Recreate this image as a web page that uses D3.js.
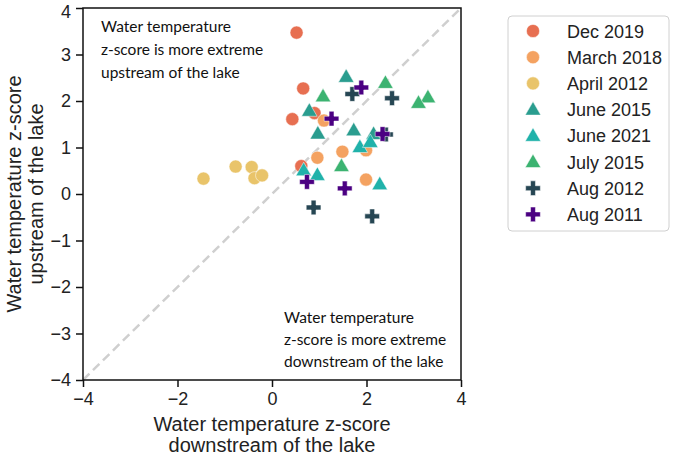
<!DOCTYPE html>
<html><head><meta charset="utf-8">
<script src="https://cdn.jsdelivr.net/npm/d3@7"></script>
<style>body{margin:0;background:#fff;} svg{display:block;}</style>
</head><body>
<svg id="chart" width="673" height="456"></svg>
<script>
const seriesNames = ["Dec 2019","March 2018","April 2012","June 2015","June 2021","July 2015","Aug 2012","Aug 2011"];
const seriesColors = ["#e76f51","#f4a261","#e9c46a","#2a9d8f","#20b2aa","#3cb371","#264653","#4b0082"];
const seriesShapes = ["circle","circle","circle","triangle","triangle","triangle","plus","plus"];
const dec2019 = [[0.52,3.47],[0.66,2.27],[0.90,1.74],[0.43,1.61],[0.62,0.60]];
const march2018 = [[1.10,1.58],[1.99,0.94],[1.49,0.91],[0.96,0.78],[1.99,0.31]];
const april2012 = [[-1.45,0.33],[-0.77,0.59],[-0.43,0.58],[-0.37,0.34],[-0.21,0.40]];
const june2015 = [[0.79,1.79],[1.57,2.52],[0.97,1.30],[1.73,1.37],[2.15,1.29]];
const june2021 = [[1.86,1.01],[2.08,1.12],[0.67,0.51],[0.96,0.41],[2.28,0.21]];
const july2015 = [[1.08,2.10],[2.40,2.39],[3.30,2.08],[3.10,1.96],[1.47,0.60]];
const aug2012 = [[1.70,2.15],[2.54,2.06],[2.41,1.28],[0.88,-0.29],[2.12,-0.48]];
const aug2011 = [[1.89,2.29],[1.26,1.62],[2.34,1.29],[0.74,0.26],[1.54,0.12]];
const seriesValues = [dec2019, march2018, april2012, june2015, june2021, july2015, aug2012, aug2011];
const xTicks = [-4,-2,0,2,4];
const yTicks = [-4,-3,-2,-1,0,1,2,3,4];
const axisDomain = [-4,4];
const xLabelLines = ["Water temperature z-score","downstream of the lake"];
const yLabelLines = ["Water temperature z-score","upstream of the lake"];
const upperNote = ["Water temperature","z-score is more extreme","upstream of the lake"];
const lowerNote = ["Water temperature","z-score is more extreme","downstream of the lake"];

const svg = d3.select("#chart");
const L = 83, R = 461, T = 8, B = 380;
const x = d3.scaleLinear().domain(axisDomain).range([L, R]);
const y = d3.scaleLinear().domain(axisDomain).range([B, T]);

// diagonal 1:1 line
svg.append("line")
  .attr("x1", x(axisDomain[0])).attr("y1", y(axisDomain[0]))
  .attr("x2", x(axisDomain[1])).attr("y2", y(axisDomain[1]))
  .attr("stroke", "#cfcfcf").attr("stroke-width", 2.5).attr("stroke-dasharray", "9,5");

// annotations
const noteFont = "Lato, 'Open Sans', sans-serif";
const up = svg.append("text").attr("font-family", noteFont).attr("font-size", 15.5).attr("fill", "#111");
upperNote.forEach((t,i) => up.append("tspan").attr("x", 101).attr("y", 32 + i*23).text(t));
const lo = svg.append("text").attr("font-family", noteFont).attr("font-size", 15.5).attr("fill", "#111");
lowerNote.forEach((t,i) => lo.append("tspan").attr("x", 284).attr("y", 323 + i*22).text(t));

// symbols
function symPath(shape){
  if (shape === "circle") return d3.symbol(d3.symbolCircle, 135)();
  if (shape === "triangle") return d3.symbol(d3.symbolTriangle, 105)();
  return d3.symbol(d3.symbolCross, 120)();
}

const marks = svg.append("g");
seriesValues.forEach((vals, si) => {
  marks.selectAll(null).data(vals).enter().append("path")
    .attr("d", symPath(seriesShapes[si]))
    .attr("transform", d => `translate(${x(d[0])},${y(d[1]) + (seriesShapes[si]==="triangle"?1:0)})`)
    .attr("fill", seriesColors[si])
    .attr("stroke", "#fff").attr("stroke-width", 0.5);
});

// frame
svg.append("rect").attr("x", L).attr("y", T).attr("width", R-L).attr("height", B-T)
  .attr("fill", "none").attr("stroke", "#111").attr("stroke-width", 1.5);

// axes
const fontAx = "'Liberation Sans', Arial, sans-serif";
const xAxis = svg.append("g").attr("transform", `translate(0,${B})`)
  .call(d3.axisBottom(x).tickValues(xTicks).tickSize(7).tickPadding(5));
const yAxis = svg.append("g").attr("transform", `translate(${L},0)`)
  .call(d3.axisLeft(y).tickValues(yTicks).tickSize(7).tickPadding(5));
[xAxis, yAxis].forEach(a => {
  a.select(".domain").remove();
  a.selectAll(".tick line").attr("stroke", "#111").attr("stroke-width", 1.5);
  a.selectAll(".tick text").attr("font-family", fontAx).attr("font-size", 18).attr("fill", "#222");
});
// keep the topmost y tick label inside the picture
yAxis.selectAll(".tick text").filter(d => d === yTicks[yTicks.length-1]).attr("dy", "0.5em");

// axis labels
const xl = svg.append("text").attr("font-family", fontAx).attr("font-size", 20).attr("fill", "#222").attr("text-anchor", "middle");
xLabelLines.forEach((t,i) => xl.append("tspan").attr("x", (L+R)/2).attr("y", 431 + i*21).text(t));
const yl = svg.append("text").attr("font-family", fontAx).attr("font-size", 20).attr("fill", "#222").attr("text-anchor", "middle")
  .attr("transform", `translate(0,${(T+B)/2}) rotate(-90)`);
yLabelLines.forEach((t,i) => yl.append("tspan").attr("x", 0).attr("y", 21 + i*22).text(t));

// legend
const lg = svg.append("g");
lg.append("rect").attr("x", 508).attr("y", 16).attr("width", 161).attr("height", 215).attr("rx", 4)
  .attr("fill", "#fff").attr("stroke", "#d0d0d0").attr("stroke-width", 1);
seriesNames.forEach((n, i) => {
  const cy = 31 + i*26.2;
  lg.append("path").attr("d", symPath(seriesShapes[i]))
    .attr("transform", `translate(533,${cy + (seriesShapes[i]==="triangle"?1:0)})`)
    .attr("fill", seriesColors[i]).attr("stroke", "#fff").attr("stroke-width", 0.5);
  lg.append("text").attr("x", 567).attr("y", cy + 6.5).attr("font-family", fontAx).attr("font-size", 18)
    .attr("fill", "#222").text(n);
});
</script>
</body></html>
